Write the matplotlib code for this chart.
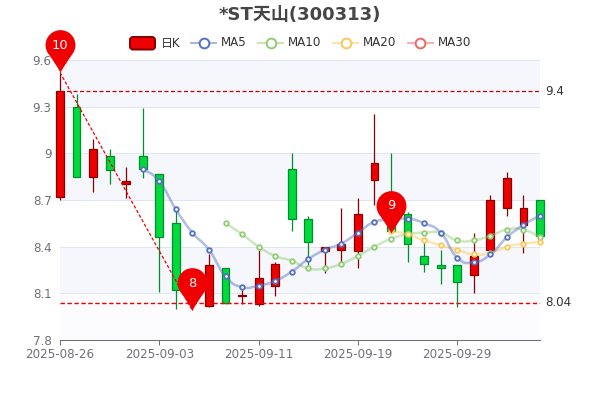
# -*- coding: utf-8 -*-
import matplotlib
matplotlib.use('Agg')
import matplotlib.pyplot as plt
from matplotlib.lines import Line2D
from matplotlib.patches import PathPatch, FancyBboxPatch, Rectangle
from matplotlib.path import Path
from matplotlib.transforms import Affine2D

plt.rcParams['font.family'] = ['DejaVu Sans', 'Noto Sans CJK SC']

# -----------------------------------------------------------------------------
# DATA
# -----------------------------------------------------------------------------
dates = ['2025-08-26', '2025-08-27', '2025-08-28', '2025-08-29', '2025-09-01', '2025-09-02',
         '2025-09-03', '2025-09-04', '2025-09-05', '2025-09-08', '2025-09-09', '2025-09-10',
         '2025-09-11', '2025-09-12', '2025-09-15', '2025-09-16', '2025-09-17', '2025-09-18',
         '2025-09-19', '2025-09-22', '2025-09-23', '2025-09-24', '2025-09-25', '2025-09-26',
         '2025-09-29', '2025-09-30', '2025-10-09', '2025-10-10', '2025-10-13', '2025-10-14']

opens = [8.72, 9.30, 8.85, 8.98, 8.80, 8.98, 8.87, 8.55, 8.08, 8.02, 8.26, 8.08, 8.03, 8.15, 8.90,
         8.58, 8.37, 8.38, 8.37, 8.83, 8.67, 8.61, 8.34, 8.28, 8.28, 8.22, 8.38, 8.65, 8.54, 8.70]
closes = [9.40, 8.85, 9.03, 8.89, 8.82, 8.90, 8.46, 8.12, 8.18, 8.28, 8.04, 8.09, 8.20, 8.29, 8.58,
          8.43, 8.40, 8.42, 8.61, 8.94, 8.50, 8.42, 8.29, 8.26, 8.17, 8.34, 8.70, 8.84, 8.65, 8.47]
lows = [8.70, 8.85, 8.75, 8.80, 8.71, 8.84, 8.11, 8.00, 7.99, 8.01, 8.03, 8.03, 8.02, 8.08, 8.50,
        8.28, 8.23, 8.28, 8.26, 8.67, 8.50, 8.30, 8.24, 8.16, 8.01, 8.10, 8.38, 8.60, 8.36, 8.46]
highs = [9.52, 9.38, 9.09, 9.03, 8.91, 9.29, 8.87, 8.64, 8.20, 8.35, 8.26, 8.12, 8.38, 8.30, 9.00,
         8.60, 8.40, 8.65, 8.71, 9.25, 9.00, 8.62, 8.43, 8.38, 8.28, 8.49, 8.73, 8.88, 8.73, 8.70]

ma5 = [None] * 5 + [8.90, 8.82, 8.64, 8.49, 8.38, 8.21, 8.14, 8.15, 8.18, 8.24, 8.32, 8.38, 8.42,
                    8.49, 8.56, 8.57, 8.58, 8.55, 8.49, 8.33, 8.30, 8.35, 8.46, 8.54, 8.60]
ma10 = [None] * 10 + [8.55, 8.48, 8.40, 8.34, 8.31, 8.26, 8.26, 8.29, 8.34, 8.40, 8.45, 8.48, 8.49,
                      8.49, 8.44, 8.44, 8.47, 8.51, 8.51, 8.46]
ma20 = [None] * 20 + [8.50, 8.48, 8.44, 8.41, 8.38, 8.35, 8.36, 8.40, 8.42, 8.43]

pin_index = [0, 8, 20]
pin_value = [9.52, 7.99, 8.49]
pin_label = ['10', '8', '9']

high_level = 9.4
low_level = 8.04
yticks = [7.8, 8.1, 8.4, 8.7, 9, 9.3, 9.6]
xtick_index = [0, 6, 12, 18, 24]
legend_names = ['MA5', 'MA10', 'MA20', 'MA30']

# -----------------------------------------------------------------------------
# STYLE
# -----------------------------------------------------------------------------
UP = '#ec0000'
UP_EDGE = '#8a0000'
DOWN = '#00da3c'
DOWN_EDGE = '#008f28'
LINE_COLORS = ['#5470c6', '#91cc75', '#fac858', '#ee6666']
W, H = 600.0, 400.0
PT = 0.72  # one pixel in points


def px(x, y):
    return x / W, 1 - y / H


def smooth_path(xs, ys, k=0.25):
    # bezier through the points, like a smooth echarts line
    verts = [(xs[0], ys[0])]
    codes = [Path.MOVETO]
    n = len(xs)
    for i in range(n - 1):
        p0 = max(i - 1, 0)
        p3 = min(i + 2, n - 1)
        verts.append((xs[i] + k * (xs[i + 1] - xs[p0]), ys[i] + k * (ys[i + 1] - ys[p0])))
        verts.append((xs[i + 1] - k * (xs[p3] - xs[i]), ys[i + 1] - k * (ys[p3] - ys[i])))
        verts.append((xs[i + 1], ys[i + 1]))
        codes += [Path.CURVE4, Path.CURVE4, Path.CURVE4]
    return Path(verts, codes)


def pin_marker():
    # tip at the origin, head above it
    r, cy = 15.0, 27.5
    arc = Path.arc(-35, 215)
    verts = [(0, 0), (5, 9)]
    codes = [Path.MOVETO, Path.CURVE3]
    arc_v = [(v[0] * r, v[1] * r + cy) for v in arc.vertices]
    verts.append(arc_v[0])
    codes.append(Path.CURVE3)
    verts += arc_v[1:]
    codes += list(arc.codes[1:])
    verts += [(-5, 9), (0, 0)]
    codes += [Path.CURVE3, Path.CURVE3]
    return Path(verts, codes)


fig = plt.figure(figsize=(6, 4), dpi=100)
ax = fig.add_axes([60 / W, 60 / H, 480 / W, 280 / H])
ax.set_xlim(0, len(dates) - 1)
ax.set_ylim(7.8, 9.6)

# split areas + grid
for i in range(len(yticks) - 1):
    band = '#f5f7fc' if (len(yticks) - 2 - i) % 2 == 0 else '#ffffff'
    if i == 0:
        band = '#fcfcfe'
    ax.axhspan(yticks[i], yticks[i + 1], color=band, lw=0, zorder=0)
for v in yticks[1:]:
    ax.axhline(v, color='#e0e6f1', lw=PT, zorder=1)

# candles
body = 0.47
for i in range(len(dates)):
    rising = closes[i] >= opens[i]
    fc = UP if rising else DOWN
    ec = UP_EDGE if rising else DOWN_EDGE
    ax.plot([i, i], [lows[i], highs[i]], color=ec, lw=0.9, zorder=2, clip_on=False,
            solid_capstyle='butt')
    ax.add_patch(Rectangle((i - body / 2, min(opens[i], closes[i])), body, abs(closes[i] - opens[i]),
                           fc=fc, ec=ec, lw=0.9, zorder=3, clip_on=False))

# mark lines
ax.axhline(high_level, color='#c80000', lw=0.9, ls=(0, (3.2, 2)), zorder=4)
ax.axhline(low_level, color='#f00000', lw=1.0, ls=(0, (3.2, 1.8)), zorder=4)
ax.plot([pin_index[0], pin_index[1]], [pin_value[0], pin_value[1]], color='#f00000', lw=0.9,
        ls=(0, (2.6, 1.6)), zorder=4)
ax.text(1.0 + 5 / 480, high_level, '9.4', transform=ax.get_yaxis_transform(), va='center', ha='left',
        fontsize=8.6, color='#333333')
ax.text(1.0 + 5 / 480, low_level, '8.04', transform=ax.get_yaxis_transform(), va='center', ha='left',
        fontsize=8.6, color='#333333')

# moving averages
for values, col, z in zip([ma5, ma10, ma20], LINE_COLORS, [6, 5, 5.5]):
    xs = [i for i, v in enumerate(values) if v is not None]
    ys = [v for v in values if v is not None]
    ax.add_patch(PathPatch(smooth_path(xs, ys), fc='none', ec=col, lw=2.6 * PT, alpha=0.45, zorder=z,
                           clip_on=False))
    ax.plot(xs, ys, ls='none', marker='o', ms=3.3, mfc='white', mec=col, mew=1.3, zorder=z + 0.1,
            clip_on=False)

# pins
pin = pin_marker()
for i, v, lab in zip(pin_index, pin_value, pin_label):
    ax.plot([i], [v], marker=pin, ms=61, color='#f00000', mec='none', zorder=8, clip_on=False)
    ax.annotate(lab, (i, v), xytext=(0, 19.5), textcoords='offset points', ha='center', va='center',
                color='white', fontsize=9.4, zorder=9, annotation_clip=False)

# axes
for s in ['top', 'left', 'right']:
    ax.spines[s].set_visible(False)
ax.spines['bottom'].set_color('#6e7079')
ax.spines['bottom'].set_linewidth(PT)
ax.spines['bottom'].set_zorder(7)
ax.set_xticks(xtick_index)
ax.set_xticklabels([dates[i] for i in xtick_index])
ax.set_yticks(yticks)
ax.set_yticklabels([str(v) for v in yticks])
ax.tick_params(axis='x', length=3.6, width=PT, color='#6e7079', labelcolor='#6e7079', labelsize=8.6, pad=2)
ax.tick_params(axis='y', length=0, labelcolor='#6e7079', labelsize=8.6, pad=6)

# title
fig.text(*px(300, 15), '*ST天山(300313)', ha='center', va='center', fontsize=13, fontweight='bold',
         color='#464646')

# legend
pixels = Affine2D().scale(1 / W, 1 / H) + fig.transFigure
fig.add_artist(FancyBboxPatch((130, H - 49.5), 25, 12.5, boxstyle='round,pad=0,rounding_size=3',
                              fc=UP, ec=UP_EDGE, lw=2 * PT, transform=pixels))
fig.text(*px(161, 43), '日K', ha='left', va='center', fontsize=8.6, color='#333333')
starts = [191, 258, 333, 407.5]
for name, col, sx in zip(legend_names, LINE_COLORS, starts):
    lx0, ly = px(sx, 43)
    lx1, _ = px(sx + 25, 43)
    cx, _ = px(sx + 12.5, 43)
    fig.add_artist(Line2D([lx0, lx1], [ly, ly], transform=fig.transFigure, color=col, lw=2 * PT, alpha=0.5))
    fig.add_artist(Line2D([cx], [ly], transform=fig.transFigure, marker='o', ms=7, mfc='white', mec=col,
                          mew=1.4, ls='none'))
    fig.text(*px(sx + 30, 43), name, ha='left', va='center', fontsize=8.6, color='#333333')

fig.savefig('out.png', dpi=100)
